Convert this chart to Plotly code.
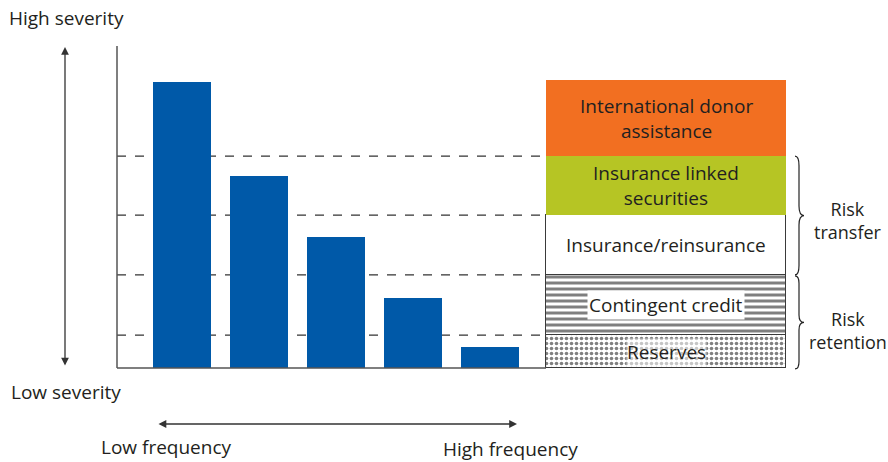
import plotly.graph_objects as go

# ---- data ----
events = ["1", "2", "3", "4", "5"]              # frequency classes, low -> high
severity = [88.8, 59.6, 40.7, 21.7, 6.5]         # bar heights (relative severity)
tier_names = ["Reserves", "Contingent credit", "Insurance/reinsurance",
              "Insurance linked<br>securities", "International donor<br>assistance"]
tier_heights = [10.2, 18.7, 18.6, 18.3, 23.6]    # layer thickness, bottom -> top
group_labels = ["Risk<br>transfer", "Risk<br>retention"]
axis_labels = ["High severity", "Low severity", "Low frequency", "High frequency"]

W, H = 888, 462
def px(x): return x / W
def py(y): return 1 - y / H

FONT = "Open Sans"
FS = 19
TXT = "#231f20"
LINE = "#3a3a3a"

fig = go.Figure()

# bars
fig.add_trace(go.Bar(x=list(range(len(events))), y=severity, width=0.753,
                     marker=dict(color="#0059a8", line=dict(width=0)),
                     hoverinfo="skip", showlegend=False))

# stacked layers
tier_fill = ["white", "white", "white", "#b6c524", "#f26f21"]
tier_pattern = [dict(shape=".", fgcolor="#000", bgcolor="white", size=5, solidity=0.4),
                dict(shape="-", fgcolor="#000", bgcolor="white", size=6, solidity=0.5),
                None, None, None]
tier_line = [1.3, 1.3, 1.3, 0, 0]
for name, h, c, p, lw in zip(tier_names, tier_heights, tier_fill, tier_pattern, tier_line):
    m = dict(color=c, line=dict(width=lw, color=LINE))
    if p is not None:
        m["pattern"] = p
    fig.add_trace(go.Bar(x=[0], y=[h], width=1, xaxis="x2", yaxis="y",
                         marker=m, hoverinfo="skip", showlegend=False))

# cumulative tier bounds
bounds = [0]
for h in tier_heights:
    bounds.append(bounds[-1] + h)

shapes = []
# axis lines
shapes.append(dict(type="line", xref="paper", yref="y", x0=px(117), x1=px(117),
                   y0=0, y1=100, line=dict(color="#555", width=1.5)))
shapes.append(dict(type="line", xref="paper", yref="y", x0=px(117), x1=px(546),
                   y0=0, y1=0, line=dict(color="#555", width=1.5)))
# dashed guide lines at tier boundaries
for b in bounds[1:5]:
    shapes.append(dict(type="line", xref="paper", yref="y", x0=px(117), x1=px(546),
                       y0=b, y1=b, layer="below",
                       line=dict(color="#333", width=1.2, dash="9px,9px")))

def brace(x_end, x_body, x_tip, y0, y1):
    ym = (y0 + y1) / 2
    r = (y0 - y1) * 0.08
    a, b, c = px(x_end), px(x_body), px(x_tip)
    return (f"M {a},{y0} Q {b},{y0} {b},{y0 - r} L {b},{ym + r} "
            f"Q {b},{ym} {c},{ym} Q {b},{ym} {b},{ym - r} L {b},{y1 + r} "
            f"Q {b},{y1} {a},{y1}")

shapes.append(dict(type="path", xref="paper", yref="y",
                   path=brace(795, 799, 804, bounds[4], bounds[2]),
                   line=dict(color="#222", width=1.2)))
shapes.append(dict(type="path", xref="paper", yref="y",
                   path=brace(795, 799, 804, bounds[2] - 0.3, bounds[0] - 0.3),
                   line=dict(color="#222", width=1.2)))

ann = []
# tier labels
for i, name in enumerate(tier_names):
    mid = (bounds[i] + bounds[i + 1]) / 2
    d = dict(x=0, y=mid, xref="x2", yref="y", text=name, showarrow=False,
             xanchor="center", yanchor="middle",
             font=dict(family=FONT, size=FS, color=TXT))
    if i == 1:
        d.update(bgcolor="white", borderpad=1)
    if i == 0:
        d.update(bgcolor="rgba(255,255,255,0.55)", borderpad=0)
    ann.append(d)

# group labels
ann.append(dict(x=px(848), y=py(221), xref="paper", yref="paper", text=group_labels[0],
                xanchor="center", yanchor="middle",
                showarrow=False, font=dict(family=FONT, size=18, color=TXT)))
ann.append(dict(x=px(848), y=py(330), xref="paper", yref="paper", text=group_labels[1],
                xanchor="center", yanchor="middle",
                showarrow=False, font=dict(family=FONT, size=18, color=TXT)))

# axis descriptor labels
pos = [(66, 18), (66, 392), (166, 447), (511, 449)]
for t, (x, y) in zip(axis_labels, pos):
    ann.append(dict(x=px(x), y=py(y), xref="paper", yref="paper", text=t,
                    xanchor="center", yanchor="middle",
                    showarrow=False, font=dict(family=FONT, size=FS, color=TXT)))

# double-headed arrows
ann.append(dict(x=px(65), y=py(47), xref="paper", yref="paper", ax=0, ay=320,
                text="", showarrow=True, arrowside="end+start", arrowhead=2,
                arrowsize=1.2, arrowwidth=1.3, arrowcolor="#333", standoff=0, startstandoff=0))
ann.append(dict(x=px(517), y=py(424), xref="paper", yref="paper", ax=-360, ay=0,
                text="", showarrow=True, arrowside="end+start", arrowhead=2,
                arrowsize=1.2, arrowwidth=1.3, arrowcolor="#333", standoff=0, startstandoff=0))

ypx = 3.22  # pixels per severity unit
fig.update_layout(
    width=W, height=H,
    margin=dict(l=0, r=0, t=0, b=0),
    paper_bgcolor="white", plot_bgcolor="rgba(0,0,0,0)",
    barmode="stack", bargap=0,
    showlegend=False,
    xaxis=dict(domain=[px(117), px(545)], range=[-0.844, 4.714],
               showgrid=False, zeroline=False, showticklabels=False, ticks="",
               showline=False, fixedrange=True),
    yaxis=dict(domain=[py(368 + 2 * ypx), py(46)], range=[-2, 100],
               showgrid=False, zeroline=False, showticklabels=False, ticks="",
               showline=False, fixedrange=True),
    xaxis2=dict(domain=[px(544), px(788)], range=[-0.5 * 244 / 240, 0.5 * 244 / 240],
                anchor="y",
                showgrid=False, zeroline=False, showticklabels=False, ticks="",
                showline=False, fixedrange=True),
    shapes=shapes,
    annotations=ann,
)

fig.write_html("out.html", config={"displayModeBar": False},
               post_script="document.body.style.margin='0';document.body.style.padding='0';")
